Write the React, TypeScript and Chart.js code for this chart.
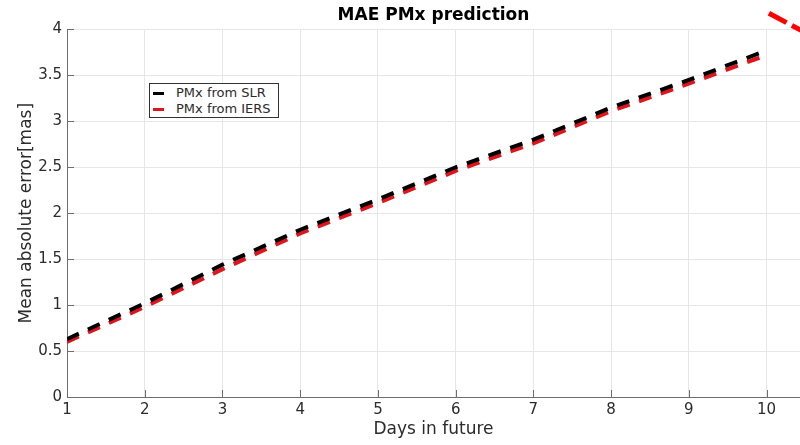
import React, { useEffect, useRef } from "react";
import { Chart, registerables } from "chart.js";

Chart.register(...registerables);

const days = [1, 2, 3, 4, 5, 6, 7, 8, 9, 10];
const pmxFromSLR = [0.63, 1.02, 1.44, 1.82, 2.15, 2.5, 2.8, 3.15, 3.45, 3.77];
const pmxFromIERS = [0.6, 0.98, 1.39, 1.78, 2.11, 2.46, 2.76, 3.11, 3.41, 3.72];
const xTickValues = [1, 2, 3, 4, 5, 6, 7, 8, 9, 10];
const yTickValues = [0, 0.5, 1, 1.5, 2, 2.5, 3, 3.5, 4];
const strayX = [10.03, 10.5];
const strayY = [4.175, 3.965];

const FONT = "'DejaVu Sans', sans-serif";
const TEXT = "#2b2b2b";

const inwardTicks = {
  id: "inwardTicks",
  afterDraw(chart: any) {
    const { ctx, chartArea, scales } = chart;
    ctx.save();
    ctx.strokeStyle = "#6e6e6e";
    ctx.lineWidth = 1;
    ctx.beginPath();
    scales.x.ticks.forEach((t: any) => {
      const px = Math.round(scales.x.getPixelForValue(t.value)) + 0.5;
      ctx.moveTo(px, chartArea.bottom);
      ctx.lineTo(px, chartArea.bottom - 7);
    });
    scales.y.ticks.forEach((t: any) => {
      const py = Math.round(scales.y.getPixelForValue(t.value)) + 0.5;
      ctx.moveTo(chartArea.left, py);
      ctx.lineTo(chartArea.left + 7, py);
    });
    ctx.stroke();
    ctx.restore();
  },
};

export default function App() {
  const ref = useRef<HTMLCanvasElement | null>(null);

  useEffect(() => {
    document.body.style.margin = "0";
    const canvas = ref.current;
    if (!canvas) return;
    const chart = new Chart(canvas, {
      type: "line",
      data: {
        datasets: [
          {
            label: "PMx from SLR",
            data: days.map((d, i) => ({ x: d, y: pmxFromSLR[i] })),
            borderColor: "#000000",
            borderWidth: 4,
            borderDash: [13, 10],
            pointRadius: 0,
            fill: false,
          },
          {
            label: "PMx from IERS",
            data: days.map((d, i) => ({ x: d, y: pmxFromIERS[i] })),
            borderColor: "#e0141b",
            borderWidth: 4,
            borderDash: [13, 10],
            pointRadius: 0,
            fill: false,
          },
          {
            label: "stray",
            data: strayX.map((x, i) => ({ x, y: strayY[i] })),
            borderColor: "#ff0000",
            borderWidth: 5,
            borderDash: [20, 6],
            pointRadius: 0,
            fill: false,
            clip: false as any,
          },
        ],
      },
      options: {
        responsive: false,
        animation: false,
        layout: { padding: 0 },
        plugins: {
          legend: { display: false },
          tooltip: { enabled: false },
          title: {
            display: true,
            text: "MAE PMx prediction",
            fullSize: false,
            color: "#000",
            font: { family: FONT, size: 17, weight: "bold" },
            padding: { top: 5, bottom: 4 },
          },
        },
        scales: {
          x: {
            type: "linear",
            min: 1,
            max: 10.43,
            afterBuildTicks: (s: any) => {
              s.ticks = xTickValues.map((v) => ({ value: v }));
            },
            afterFit: (s: any) => {
              s.height = 48;
            },
            ticks: {
              color: TEXT,
              font: { family: FONT, size: 15 },
              padding: 4,
              maxRotation: 0,
              callback: (v: any) => String(v),
            },
            grid: { color: "#e6e6e6", drawTicks: false },
            border: { color: "#6e6e6e", width: 1 },
            title: {
              display: true,
              text: "Days in future",
              color: TEXT,
              font: { family: FONT, size: 17 },
              padding: { top: 0, bottom: 5 },
            },
          },
          y: {
            type: "linear",
            min: 0,
            max: 4,
            afterBuildTicks: (s: any) => {
              s.ticks = yTickValues.map((v) => ({ value: v }));
            },
            afterFit: (s: any) => {
              s.width = 67;
            },
            ticks: {
              color: TEXT,
              font: { family: FONT, size: 15 },
              padding: 5,
              callback: (v: any) => String(v),
            },
            grid: { color: "#e6e6e6", drawTicks: false },
            border: { color: "#6e6e6e", width: 1 },
            title: {
              display: true,
              text: "Mean absolute error[mas]",
              color: TEXT,
              font: { family: FONT, size: 17 },
              padding: { top: 16, bottom: 0 },
            },
          },
        },
      },
      plugins: [inwardTicks],
    } as any);
    return () => chart.destroy();
  }, []);

  const row = (color: string, text: string) => (
    <div style={{ display: "flex", alignItems: "center", height: 16 }}>
      <span
        style={{
          display: "inline-block",
          width: 11,
          height: 3,
          background: color,
          marginLeft: 3,
          marginRight: 12,
        }}
      />
      <span style={{ fontFamily: FONT, fontSize: 13, color: TEXT, lineHeight: "16px" }}>{text}</span>
    </div>
  );

  return (
    <div style={{ position: "relative", width: 800, height: 445, background: "#fff" }}>
      <canvas ref={ref} width={800} height={445} style={{ display: "block" }} />
      <div
        style={{
          position: "absolute",
          left: 149,
          top: 83,
          width: 130,
          height: 35,
          boxSizing: "border-box",
          border: "1px solid #333",
          background: "#fff",
          paddingTop: 1,
        }}
      >
        {row("#000000", "PMx from SLR")}
        {row("#e0141b", "PMx from IERS")}
      </div>
    </div>
  );
}
